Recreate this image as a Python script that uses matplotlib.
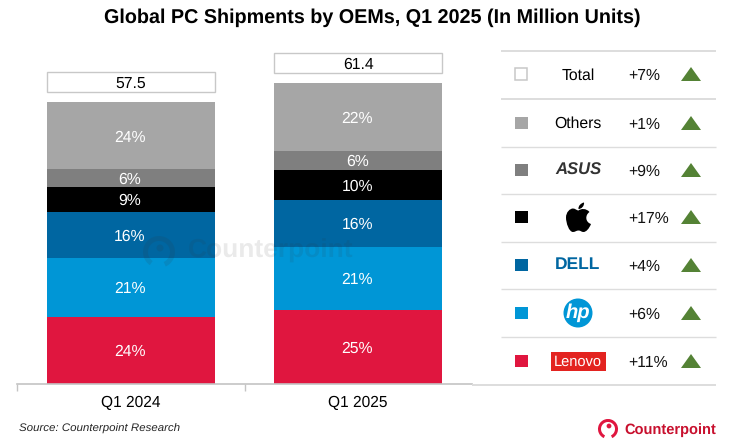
import numpy as np
import matplotlib
matplotlib.use('Agg')
import matplotlib.pyplot as plt
from matplotlib.patches import Rectangle, Circle, Wedge, Polygon, PathPatch
from matplotlib.path import Path

plt.rcParams['font.family'] = ['Liberation Sans', 'DejaVu Sans']
plt.rcParams['text.hinting'] = 'none'

# Data (million units, bottom to top)
quarters = ['Q1 2024', 'Q1 2025']
totals = [57.5, 61.4]
oems = ['Lenovo', 'HP', 'Dell', 'Apple', 'ASUS', 'Others']
units_2024 = [13.7, 12.1, 9.4, 5.1, 3.5, 13.7]
units_2025 = [15.1, 12.9, 9.6, 6.1, 3.9, 13.8]
shares_2024 = ['24%', '21%', '16%', '9%', '6%', '24%']
shares_2025 = ['25%', '21%', '16%', '10%', '6%', '22%']
colors = ['#E0163F', '#0096D6', '#0066A1', '#000000', '#7F7F7F', '#A6A6A6']

# Legend table, top to bottom
legend_names = ['Total', 'Others', 'ASUS', 'Apple', 'Dell', 'HP', 'Lenovo']
legend_growth = ['+7%', '+1%', '+9%', '+17%', '+4%', '+6%', '+11%']
legend_colors = ['white', '#A6A6A6', '#7F7F7F', '#000000', '#0066A1', '#0096D6', '#E0163F']

W, H = 750, 446
fig = plt.figure(figsize=(W / 100, H / 100), dpi=100)

# Bars
ax = fig.add_axes([17 / W, (H - 384) / H, 455 / W, 344 / H])
ax.set_xlim(-0.5, 1.5)
ax.set_ylim(0, 344 / 4.9)
x = np.arange(2)
bar_w = 0.737
bottom = np.zeros(2)
for i in range(len(oems)):
    vals = np.array([units_2024[i], units_2025[i]])
    ax.bar(x, vals, bar_w, bottom=bottom, color=colors[i])
    for j, lab in enumerate([shares_2024[i], shares_2025[i]]):
        ax.text(x[j] - 0.005, bottom[j] + vals[j] / 2 - 0.35, lab, color='white', fontsize=11.3,
                ha='center', va='center')
    bottom = bottom + vals

# Total boxes above the bars
ax.bar(x, [4.1, 4.1], bar_w, bottom=np.array(totals) + 2.0, color='white',
       edgecolor='#C8C8C8', linewidth=1.0)
for j, t in enumerate(totals):
    ax.text(x[j], t + 3.75, f'{t}', color='black', fontsize=11.3, ha='center', va='center')

for s in ['top', 'left', 'right']:
    ax.spines[s].set_visible(False)
ax.spines['bottom'].set_color('#C4C4C4')
ax.spines['bottom'].set_linewidth(1.2)
ax.set_yticks([])
ax.set_xticks(x)
ax.set_xticklabels(quarters, fontsize=11.2)
ax.tick_params(axis='x', length=0, pad=8)
ax.set_xticks([-0.5, 0.5], minor=True)
ax.tick_params(axis='x', which='minor', length=5, color='#C4C4C4', width=1)
ax.patch.set_alpha(0)

# Overlay in pixel coordinates for table, logos, text
ov = fig.add_axes([0, 0, 1, 1])
ov.set_xlim(0, W)
ov.set_ylim(H, 0)
ov.axis('off')
ov.patch.set_alpha(0)

ov.text(372, 18, 'Global PC Shipments by OEMs, Q1 2025 (In Million Units)', fontsize=14.25,
        fontweight='bold', ha='center', va='center')
ov.text(19, 429, 'Source: Counterpoint Research', fontsize=8.25, style='italic',
        color='#262626', ha='left', va='center')

# Watermark
ov.text(188, 251, 'Counterpoint', fontsize=19, fontweight='bold', color='#333333',
        alpha=0.1, ha='left', va='center')
ov.add_patch(Wedge((159, 252), 16, 125, 65, width=5, color='#333333', alpha=0.12, lw=0))
ov.add_patch(Circle((160, 248), 3.5, color='#333333', alpha=0.12, lw=0))

# Table rows
line_y = [51, 99, 147, 194, 242, 289, 337, 385]
row_y = [74, 123, 170, 217, 265, 313, 361]
for k, ly in enumerate(line_y):
    heavy = k == 0 or k == 1 or k == 7
    ov.plot([472 if k == 7 else 501, 716], [ly, ly], color='#DDDDDD',
            lw=1.4 if heavy else 1.0, solid_capstyle='butt')
for k, ry in enumerate(row_y):
    if k == 0:
        ov.add_patch(Rectangle((515, ry - 6), 12, 12, facecolor='white', edgecolor='#C8C8C8', lw=1.1))
    else:
        ov.add_patch(Rectangle((515, ry - 6), 12.5, 12, facecolor=legend_colors[k], lw=0))
    ov.text(628, ry + 1.5, legend_growth[k], fontsize=11.3, ha='left', va='center', color='#111111')
    ov.add_patch(Polygon([(681, ry + 7), (701, ry + 7), (691, ry - 7)], color='#548235', lw=0))

# Names and logos
ov.text(578, row_y[0] + 1.5, legend_names[0], fontsize=11.3, ha='center', va='center')
ov.text(578, row_y[1] + 1, legend_names[1], fontsize=11.3, ha='center', va='center')
ov.text(578, row_y[2], 'ASUS', fontsize=12, fontweight='bold', style='italic', color='#333333',
        ha='center', va='center')

# Apple shape
ay = row_y[3]
apple = Path(
    [(578.5, ay - 6.5),
     (581, ay - 8.5), (586, ay - 9), (589.5, ay - 5),
     (585, ay - 2), (585, ay + 5), (591, ay + 7),
     (589, ay + 12), (586, ay + 15), (583.5, ay + 15),
     (581.5, ay + 15), (580.5, ay + 13.5), (578.5, ay + 13.5),
     (576.5, ay + 13.5), (575, ay + 15), (573, ay + 15),
     (569, ay + 15), (566, ay + 6), (566, ay + 0.5),
     (566, ay - 5), (570, ay - 8.5), (573, ay - 8.5),
     (575, ay - 8.5), (577, ay - 6.5), (578.5, ay - 6.5)],
    [Path.MOVETO] + [Path.CURVE4] * 24)
ov.add_patch(PathPatch(apple, facecolor='black', lw=0))
leaf = Path([(578.5, ay - 8), (578, ay - 11), (581, ay - 14), (584, ay - 14.5),
             (584.5, ay - 11), (581.5, ay - 8), (578.5, ay - 8)],
            [Path.MOVETO] + [Path.CURVE4] * 6)
ov.add_patch(PathPatch(leaf, facecolor='black', lw=0))

ov.text(578, row_y[4], 'DELL', fontsize=12.5, fontweight='bold', color='#0066A1', ha='center', va='center')
ov.add_patch(Circle((578, row_y[5]), 14.5, color='#0096D6', lw=0))
ov.text(577.5, row_y[5] - 0.5, 'hp', fontsize=14.5, fontweight='bold', style='italic', color='white',
        ha='center', va='center')
ov.add_patch(Rectangle((551, row_y[6] - 9.5), 55, 19, color='#E32320', lw=0))
ov.text(578, row_y[6] + 0.5, 'Lenovo', fontsize=10.5, color='white', ha='center', va='center')

# Counterpoint logo
ov.add_patch(Wedge((608, 429), 10, 115, 65, width=3, color='#E0163F', lw=0))
ov.add_patch(Circle((609, 426), 2.4, color='#E0163F', lw=0))
ov.text(624, 430, 'Counterpoint', fontsize=10.5, fontweight='bold', color='#C8102E',
        ha='left', va='center')

fig.savefig('out.png', dpi=100)
